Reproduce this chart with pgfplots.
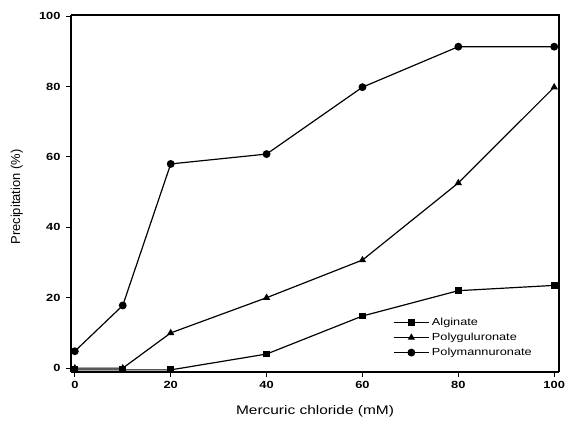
\documentclass[border=0pt]{standalone}
\usepackage{pgfplots}
\pgfplotsset{compat=1.18}
\usepackage{fontspec}
\setmainfont{Liberation Sans}[FakeStretch=1.24]
\newfontfamily\yfont{Liberation Sans}
\begin{document}
\begin{tikzpicture}
\useasboundingbox (-71bp,-49bp) rectangle (495bp,372bp);
\begin{axis}[
  at={(0,0)}, anchor=south west,
  scale only axis, width=488bp, height=357bp,
  xmin=-0.8, xmax=101, ymin=-1.1, ymax=100.3,
  xtick={0,20,40,60,80,100}, ytick={0,20,40,60,80,100},
  axis x line*=bottom, axis y line*=left,
  tick align=outside, tick style={black, line width=0.9pt}, major tick length=4.5bp,
  axis line style={line width=1.1pt},
  separate axis lines,
  every outer x axis line/.append style={-},
  every outer y axis line/.append style={-},
  /pgf/number format/assume math mode=true,
  tick label style={font=\fontsize{10.4}{12}\selectfont\bfseries},
  yticklabel style={xshift=-2.5bp},
  xticklabel style={yshift=-1bp},
  xlabel={Mercuric chloride (mM)},
  ylabel={\yfont Precipitation (\%)},
  xlabel style={font=\fontsize{12.5}{14}\selectfont, at={(axis description cs:0.5,-0.109)}, anchor=center},
  ylabel style={font=\fontsize{13}{15}\selectfont, at={(axis description cs:-0.111,0.49)}, anchor=center},
  legend style={at={(axis description cs:0.66,0.16)}, anchor=north west, draw=none, fill=none,
    font=\fontsize{10.3}{12}\selectfont, row sep=0pt, inner sep=0pt,
    nodes={text height=8bp, text depth=2bp, inner sep=2.5bp}},
  legend cell align=left,
  legend image code/.code={\draw[mark repeat=2,mark phase=2] plot coordinates {(0bp,0bp)(17.5bp,0bp)(35bp,0bp)};},
  clip=false,
]
\addplot[black, line width=1.2pt, mark=square*, mark size=2.8bp, mark options={solid}] coordinates {
 (0,-0.5) (10,-0.5) (20,-0.5) (40,4) (60,14.8) (80,22) (100,23.5)};
\addlegendentry{Alginate}
\addplot[black, line width=1.2pt, mark=triangle*, mark size=3bp, mark options={solid}] coordinates {
 (0,0) (10,0) (20,10) (40,20) (60,30.7) (80,52.6) (100,79.8)};
\addlegendentry{Polyguluronate}
\addplot[black, line width=1.2pt, mark=*, mark size=3.3bp, mark options={solid}] coordinates {
 (0,4.8) (10,17.8) (20,58) (40,60.8) (60,79.8) (80,91.3) (100,91.3)};
\addlegendentry{Polymannuronate}
\draw[line width=1.1pt] (rel axis cs:0,1) -- (rel axis cs:1,1) -- (rel axis cs:1,0);
\end{axis}
\end{tikzpicture}
\end{document}
